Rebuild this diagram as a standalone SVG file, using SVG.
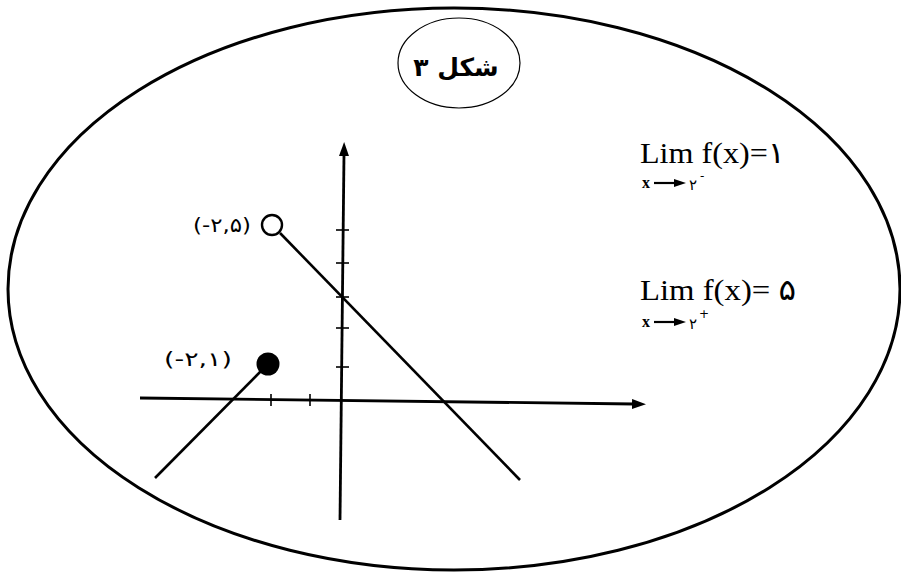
<svg xmlns="http://www.w3.org/2000/svg" width="901" height="573" viewBox="0 0 901 573">
<defs>
<style>
.ax{stroke:#000;stroke-width:2.8;fill:none}
.tk{stroke:#000;stroke-width:1.6}
.ln{stroke:#000;stroke-width:2.6;fill:none}
.lim{font-family:"Liberation Serif","DejaVu Sans",serif;font-size:30px;fill:#000}
.sm{font-family:"Liberation Serif","DejaVu Sans",serif;font-size:16px;font-weight:bold;fill:#000}
.ar{font-family:"DejaVu Sans","Liberation Sans",sans-serif;font-size:15px;fill:#000}
.sup{font-family:"DejaVu Sans","Liberation Sans",sans-serif;font-size:12px;fill:#000}
.lbl{font-family:"DejaVu Sans","Liberation Sans",sans-serif;font-size:20px;fill:#000}
</style>
<marker id="ah" viewBox="0 0 14 10" markerWidth="14" markerHeight="10" refX="2" refY="5" orient="auto" markerUnits="userSpaceOnUse">
<path d="M0,0 L14,5 L0,10 z" fill="#000"/>
</marker>
<marker id="sah" viewBox="0 0 12 8" markerWidth="12" markerHeight="8" refX="1" refY="4" orient="auto" markerUnits="userSpaceOnUse">
<path d="M0,0 L12,4 L0,8 z" fill="#000"/>
</marker>
</defs>
<rect width="901" height="573" fill="#fff"/>
<g id="frame">
<ellipse cx="454" cy="289" rx="446" ry="281" fill="none" stroke="#000" stroke-width="3"/>
</g>
<g id="title">
<ellipse cx="459" cy="63" rx="61" ry="45" fill="none" stroke="#000" stroke-width="1.2"/>
<text x="456" y="76" text-anchor="middle" direction="rtl" font-family="DejaVu Sans, sans-serif" font-size="25" font-weight="bold">شکل ۳</text>
</g>
<g id="axes">
<line class="ax" x1="140" y1="398" x2="634" y2="404" marker-end="url(#ah)"/>
<line class="ax" x1="340" y1="520" x2="344" y2="154" marker-end="url(#ah)"/>
<line class="tk" x1="271" y1="394" x2="271" y2="406"/>
<line class="tk" x1="310" y1="394" x2="310" y2="406"/>
<line class="tk" x1="336" y1="230" x2="349" y2="230"/>
<line class="tk" x1="336" y1="263" x2="349" y2="263"/>
<line class="tk" x1="336" y1="297" x2="349" y2="297"/>
<line class="tk" x1="336" y1="328" x2="349" y2="328"/>
<line class="tk" x1="336" y1="367" x2="349" y2="367"/>
</g>
<g id="connectors">
<line class="ln" x1="280" y1="233" x2="520" y2="480"/>
<line class="ln" x1="262" y1="370" x2="155" y2="478"/>
</g>
<g id="point-open">
<circle cx="272" cy="225" r="10" fill="#fff" stroke="#000" stroke-width="2.4"/>
<text class="lbl" x="193" y="232" textLength="58" lengthAdjust="spacingAndGlyphs">(-۲,۵)</text>
</g>
<g id="point-closed">
<circle cx="268" cy="364" r="11.5" fill="#000"/>
<text class="lbl" x="164" y="366" textLength="68" lengthAdjust="spacingAndGlyphs">(-۲,۱)</text>
</g>
<g id="limit-left">
<text class="lim" x="640" y="163" textLength="145" lengthAdjust="spacingAndGlyphs">Lim f(x)=۱</text>
<text class="sm" x="642" y="188">x</text>
<line x1="654" y1="183" x2="675" y2="183" stroke="#000" stroke-width="2.2" marker-end="url(#sah)"/>
<text class="ar" x="689" y="190">۲</text>
<text class="sup" x="700" y="180">-</text>
</g>
<g id="limit-right">
<text class="lim" x="640" y="300" textLength="156" lengthAdjust="spacingAndGlyphs">Lim f(x)= ۵</text>
<text class="sm" x="642" y="327">x</text>
<line x1="654" y1="322" x2="675" y2="322" stroke="#000" stroke-width="2.2" marker-end="url(#sah)"/>
<text class="ar" x="689" y="329">۲</text>
<text class="sup" x="699" y="318">+</text>
</g>
</svg>
